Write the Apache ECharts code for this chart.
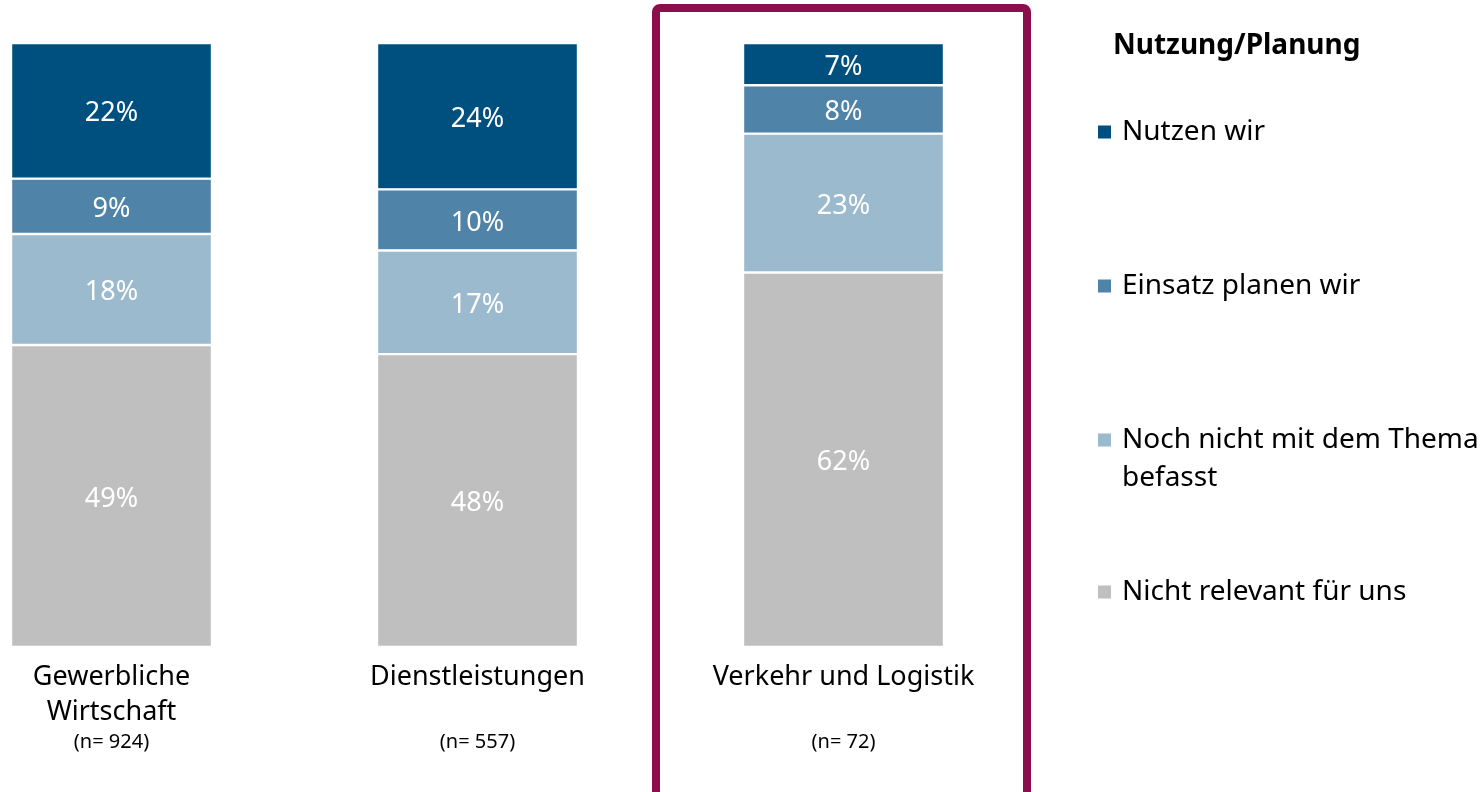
<!DOCTYPE html>
<html>
<head>
<meta charset="utf-8">
<script src="https://cdn.jsdelivr.net/npm/echarts@6/dist/echarts.min.js"></script>
<style>
html, body { margin: 0; padding: 0; background: #fff; }
#chart { width: 1483px; height: 792px; }
</style>
</head>
<body>
<div id="chart"></div>
<script>
// werte (prozent, gerundet)
var categories = ['Gewerbliche\nWirtschaft', 'Dienstleistungen', 'Verkehr und Logistik'];
var sampleSizes = [924, 557, 72];
var nutzenWir = [22, 24, 7];
var einsatzPlanen = [9, 10, 8];
var nochNicht = [18, 17, 23];
var nichtRelevant = [49, 48, 62];

var legendNames = ['Nutzen wir', 'Einsatz planen wir', 'Noch nicht mit dem Thema\nbefasst', 'Nicht relevant für uns'];
var colors = ['#00507f', '#4f83a8', '#9bbacd', '#bfbfbf'];
var font = 'Noto Sans';

// 100%-gestapelt: jede saeule auf ihre summe bezogen
var raw = [nutzenWir, einsatzPlanen, nochNicht, nichtRelevant];
var totals = categories.map(function (c, i) {
    return raw.reduce(function (s, arr) { return s + arr[i]; }, 0);
});
function shares(arr) {
    return arr.map(function (v, i) { return v / totals[i] * 100; });
}

function makeSeries(k) {
    return {
        name: legendNames[k],
        type: 'bar',
        stack: 'all',
        barWidth: 201,
        clip: false,
        data: shares(raw[k]),
        itemStyle: { color: colors[k], borderColor: '#fff', borderWidth: 1.2 },
        label: {
            show: true,
            position: 'inside',
            offset: [0, 3],
            color: '#fff',
            fontSize: 27,
            fontFamily: font,
            formatter: function (p) { return raw[k][p.dataIndex] + '%'; }
        },
        emphasis: { disabled: true }
    };
}

var legendTops = [113, 267, 383, 573];
var legends = legendNames.map(function (name, k) {
    return {
        data: [name],
        orient: 'vertical',
        left: 1096,
        top: legendTops[k],
        padding: 0,
        icon: 'rect',
        itemWidth: 15,
        itemHeight: 15,
        selectedMode: false,
        // zweizeiliger eintrag: marker soll an der ersten zeile stehen
        formatter: function (n) { return n.indexOf('\n') >= 0 ? ' \n' + n : n; },
        textStyle: {
            fontSize: 28,
            fontFamily: font,
            color: '#000',
            lineHeight: 38,
            padding: [0, 0, 0, 5]
        }
    };
});

var option = {
    animation: false,
    title: {
        text: 'Nutzung/Planung',
        left: 1113,
        top: 31,
        padding: 0,
        textStyle: { fontSize: 28, fontWeight: 'bold', fontFamily: font, color: '#000', lineHeight: 30 }
    },
    legend: legends,
    grid: { left: 111.5, top: 43, width: 732, height: 604 },
    xAxis: {
        type: 'category',
        boundaryGap: false,
        data: categories,
        axisLine: { show: false },
        axisTick: { show: false },
        splitLine: { show: false },
        axisLabel: {
            interval: 0,
            margin: 13,
            formatter: function (value, index) {
                var lines = value.split('\n');
                while (lines.length < 2) lines.push(' ');
                return lines.map(function (l) { return '{a|' + l + '}'; }).join('\n') +
                    '\n{n|(n= ' + sampleSizes[index] + ')}';
            },
            rich: {
                a: { fontSize: 27, lineHeight: 35, color: '#000', fontFamily: font },
                n: { fontSize: 20, lineHeight: 24, color: '#000', fontFamily: font }
            }
        }
    },
    yAxis: { type: 'value', min: 0, max: 100, show: false },
    series: [makeSeries(3), makeSeries(2), makeSeries(1), makeSeries(0)],
    graphic: [{
        type: 'rect',
        shape: { x: 656, y: 8, width: 371, height: 800, r: 4 },
        style: { fill: 'none', stroke: '#8c0e4c', lineWidth: 8 },
        silent: true
    }]
};

var myChart = echarts.init(document.getElementById('chart'));
myChart.setOption(option);
</script>
</body>
</html>
